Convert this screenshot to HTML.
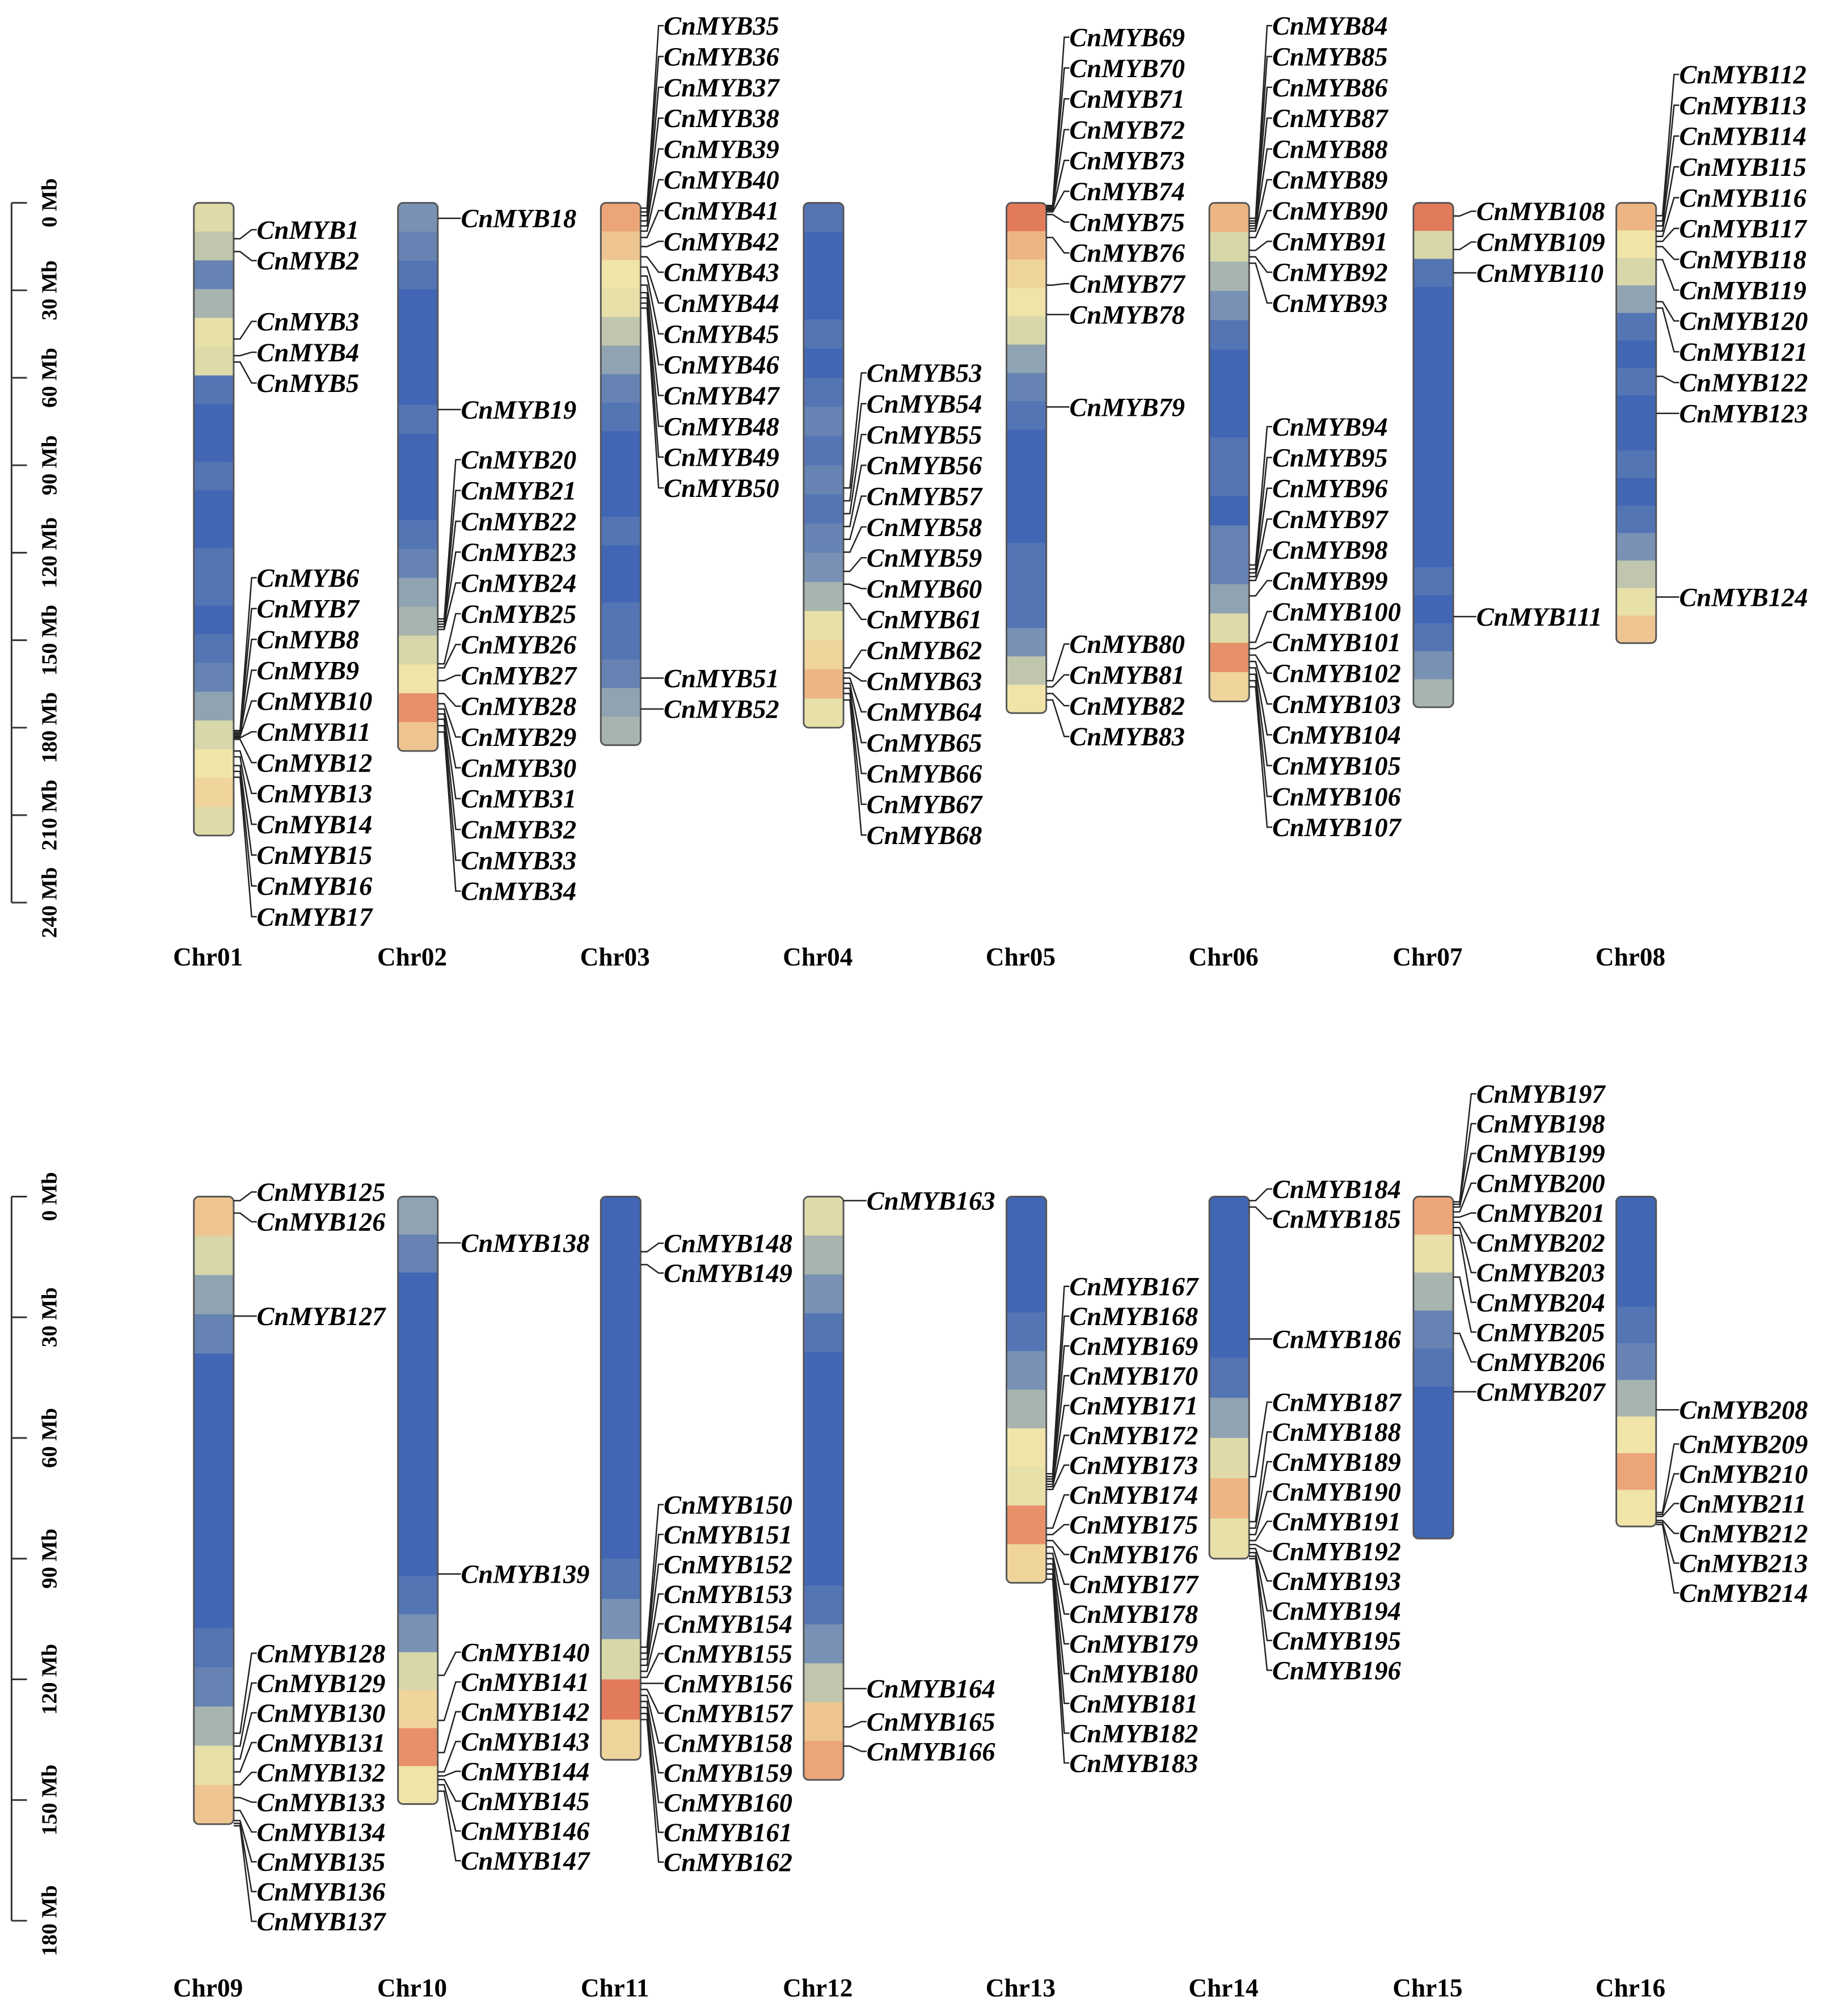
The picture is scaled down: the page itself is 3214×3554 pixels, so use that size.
<!DOCTYPE html>
<html><head><meta charset="utf-8"><style>
html,body{margin:0;padding:0;background:#fff}
svg{display:block}
text{font-family:"Liberation Serif",serif}
.g{font-weight:bold;font-style:italic;font-size:20.5px}
.c{font-weight:bold;font-size:20px}
.a{font-weight:bold;font-size:17px}
</style></head><body>
<svg id="chart" width="3214" height="3554" viewBox="0 0 1420 1570.2" xmlns="http://www.w3.org/2000/svg"></svg>
<script>
// ---- data ----
const chrNames=["Chr01","Chr02","Chr03","Chr04","Chr05","Chr06","Chr07","Chr08","Chr09","Chr10","Chr11","Chr12","Chr13","Chr14","Chr15","Chr16"];
const chrLengths=[217,188,186,180,175,171,173,151,156,151,140,145,96,90,85,82];
const densityBins=[
[0.45,0.35,0.15,0.3,0.5,0.45,0.1,0.05,0.05,0.1,0.05,0.05,0.1,0.1,0.05,0.1,0.15,0.25,0.4,0.55,0.6,0.45],
[0.2,0.15,0.1,0.05,0.05,0.05,0.05,0.1,0.05,0.05,0.05,0.1,0.15,0.25,0.3,0.4,0.55,0.8,0.65],
[0.75,0.65,0.55,0.5,0.35,0.25,0.15,0.1,0.05,0.05,0.05,0.1,0.05,0.05,0.1,0.1,0.15,0.25,0.3],
[0.1,0.05,0.05,0.05,0.1,0.05,0.1,0.15,0.1,0.15,0.1,0.15,0.2,0.3,0.5,0.6,0.7,0.5],
[0.85,0.7,0.6,0.55,0.4,0.25,0.15,0.1,0.05,0.05,0.05,0.05,0.1,0.1,0.1,0.2,0.35,0.55],
[0.7,0.4,0.3,0.2,0.1,0.05,0.05,0.05,0.1,0.1,0.05,0.15,0.15,0.25,0.45,0.8,0.6],
[0.85,0.4,0.1,0.05,0.05,0.05,0.05,0.05,0.05,0.05,0.05,0.05,0.05,0.1,0.05,0.1,0.2,0.3],
[0.7,0.55,0.4,0.25,0.1,0.05,0.1,0.05,0.05,0.1,0.05,0.1,0.2,0.35,0.5,0.65],
[0.65,0.4,0.25,0.15,0.05,0.05,0.05,0.05,0.05,0.05,0.05,0.1,0.15,0.3,0.5,0.65],
[0.25,0.15,0.05,0.05,0.05,0.05,0.05,0.05,0.05,0.05,0.1,0.2,0.4,0.6,0.8,0.55],
[0.05,0.05,0.05,0.05,0.05,0.05,0.05,0.05,0.05,0.1,0.2,0.4,0.85,0.6],
[0.45,0.3,0.2,0.1,0.05,0.05,0.05,0.05,0.05,0.05,0.1,0.2,0.35,0.65,0.75],
[0.05,0.05,0.05,0.1,0.2,0.3,0.55,0.5,0.8,0.6],
[0.05,0.05,0.05,0.05,0.1,0.25,0.45,0.7,0.5],
[0.75,0.5,0.3,0.15,0.1,0.05,0.05,0.05,0.05],
[0.05,0.05,0.05,0.1,0.15,0.3,0.55,0.75,0.55]
];
// gene positions (Mb) per chromosome, genes numbered consecutively from CnMYB1
const genePos=[
[12.3,16.7,46.7,52.4,54.6,181,181.5,182,182.5,183,183.5,184,188,190,193,195,197],
[5.3,70.9,142.7,143.6,144.5,145.4,146.3,158.1,159.5,163.9,168.3,171.8,173.6,175.3,177.1,179.3,181.5],
[1.8,3.1,4.4,6.2,7.9,9.7,11.9,15,18.5,22,25.1,28.2,30.8,32.6,34.4,36.1,163,173.6],
[97.8,102.2,106.6,111,115.4,119.8,126.4,130.8,137.4,159.5,161.2,163,164.8,166.5,168.3,170.5],
[0.9,1.3,1.8,2.2,2.6,3.1,4,11.9,28.2,38.3,70,163.9,166,168.3,170.5],
[5.3,6.2,7,7.9,8.8,9.7,11.9,16.3,18.5,20.7,124.2,125.6,126.9,128.2,129.5,134.8,150.7,152.9,155.1,157.3,159.5,161.7,163.9,166],
[4.5,16,24,141.9],
[4.4,6.2,7.9,9.7,11.5,13.2,15,19.5,33.9,36.1,59.5,72.2,135.2],
[1,4.1,29.7,133.4,136.6,139.8,143,146.2,149.4,152.6,155.1,155.8,156.4],
[11.5,93.8,119,130.2,138.2,143,144,144.9,146.2,147.8],
[13.7,16.9,112,113.5,115,116.5,118,119.5,121,122.5,124,125.5,127,128.5,130],
[1,122.3,131.8,136.6],
[68.9,69.6,70.2,70.8,71.5,72.1,72.8,82.4,84,85.5,87.1,88.7,90,91.3,92.6,93.8,95.1],
[1,2.6,35.4,69.6,80.8,82.4,84,85.5,86.5,87.5,88.5,89.4,90],
[1.3,1.9,2.6,3.8,5.1,6.4,7.7,9.6,20,34,48.5],
[53,78.5,79,79.5,80.5,81,81.5]
];
const topTicks=["0 Mb","30 Mb","60 Mb","90 Mb","120 Mb","150 Mb","180 Mb","210 Mb","240 Mb"];
const bottomTicks=["0 Mb","30 Mb","60 Mb","90 Mb","120 Mb","150 Mb","180 Mb"];

// ---- layout ----
const NS="http://www.w3.org/2000/svg";
const svg=document.getElementById('chart');
function mk(tag,attrs,parent){const e=document.createElementNS(NS,tag);for(const k in attrs)e.setAttribute(k,attrs[k]);(parent||svg).appendChild(e);return e;}
const panels=[{y0:158,ppm:545/240,labelY:745,ticks:topTicks,sp:24,minY:20},{y0:932,ppm:564/180,labelY:1548,ticks:bottomTicks,sp:23.2,minY:822}];
const centers=[166,325,483,641,799,957,1116,1274];
function yScale(p,mb){return p.y0+mb*p.ppm;}
function color(d){
  const st=[[0,[47,88,180]],[0.2,[120,145,180]],[0.4,[215,215,170]],[0.55,[240,228,168]],[0.75,[236,165,120]],[1,[212,60,48]]];
  for(let i=1;i<st.length;i++){if(d<=st[i][0]){const t=(d-st[i-1][0])/(st[i][0]-st[i-1][0]);const a=st[i-1][1],b=st[i][1];return `rgb(${a.map((v,j)=>Math.round(v+(b[j]-v)*t)).join(',')})`;}}
  return 'rgb(212,60,48)';
}
panels.forEach((p,pi)=>{
  const g=mk('g',{});
  
  
  const maxMb=(p.ticks.length-1)*30;
  const ln=mk('line',{x1:9,x2:9,y1:yScale(p,0),y2:yScale(p,maxMb),stroke:'#333','stroke-width':1.3},g);
  
  p.ticks.forEach((t,i)=>{
    const y=yScale(p,i*30);
    const tk=mk('line',{x1:9,x2:21,y1:y,y2:y,stroke:'#333','stroke-width':1.3},g);
    
    const tx=mk('text',{class:'a',x:0,y:0,transform:`translate(44,${y}) rotate(-90)`,'text-anchor':'middle'},g);
    tx.textContent=t;
    
  });
});
let geneNo=1;
chrNames.forEach((name,ci)=>{
  const p=panels[ci<8?0:1];
  const cx=centers[ci%8];
  const x=cx-15,w=31;
  const g=mk('g',{});
  
  
  const len=chrLengths[ci];
  const top=yScale(p,0),bot=yScale(p,len);
  const clipId='clip'+ci;
  const cp=mk('clipPath',{id:clipId},g);
  mk('rect',{x:x,y:top,width:w,height:bot-top,rx:4},cp);
  const hg=mk('g',{'clip-path':`url(#${clipId})`},g);
  const bins=densityBins[ci];const bs=len/bins.length;
  bins.forEach((d,bi)=>{
    const r=mk('rect',{x:x,y:yScale(p,bi*bs),width:w,height:bs*p.ppm+0.6,fill:color(d)},hg);
    
  });
  const outline=mk('rect',{x:x,y:top,width:w,height:bot-top,rx:4,fill:'none',stroke:'#555','stroke-width':1.3},g);
  
  const lab=mk('text',{class:'c',x:cx-4,y:p.labelY+7,'text-anchor':'middle'},g);
  lab.textContent=name;
  
  const ys=genePos[ci].map(m=>yScale(p,m));
  const sp=p.sp;
  let blocks=[];
  ys.forEach((y,i)=>{
    blocks.push({start:i,n:1,sum:y-i*sp});
    while(blocks.length>1){
      const b=blocks[blocks.length-1],a=blocks[blocks.length-2];
      if(a.sum/a.n>b.sum/b.n-0.001){a.n+=b.n;a.sum+=b.sum;blocks.pop();}else break;
    }
  });
  const ly=[];
  blocks.forEach(b=>{
    let base=b.sum/b.n;
    if(b.n>=3 && ys[b.start]<top+25){ // larger clusters at chromosome top stack upward
      base=ys[b.start+b.n-1]-(b.start+b.n-1)*sp;
      base=Math.max(base,p.minY-b.start*sp);
    }
    for(let k=0;k<b.n;k++)ly.push(base+(b.start+k)*sp);
  });
  const rx=x+w;
  ys.forEach((y,i)=>{
    const gg=mk('g',{},g);
    
    
    const pl=mk('polyline',{points:`${rx},${y} ${rx+5},${y} ${rx+14},${ly[i]} ${rx+18},${ly[i]}`,fill:'none',stroke:'#222','stroke-width':1.1},gg);
    
    const t=mk('text',{class:'g',x:rx+18,y:ly[i]+7},gg);
    t.textContent='CnMYB'+geneNo;
    
    geneNo++;
  });
});
</script>
</body></html>
